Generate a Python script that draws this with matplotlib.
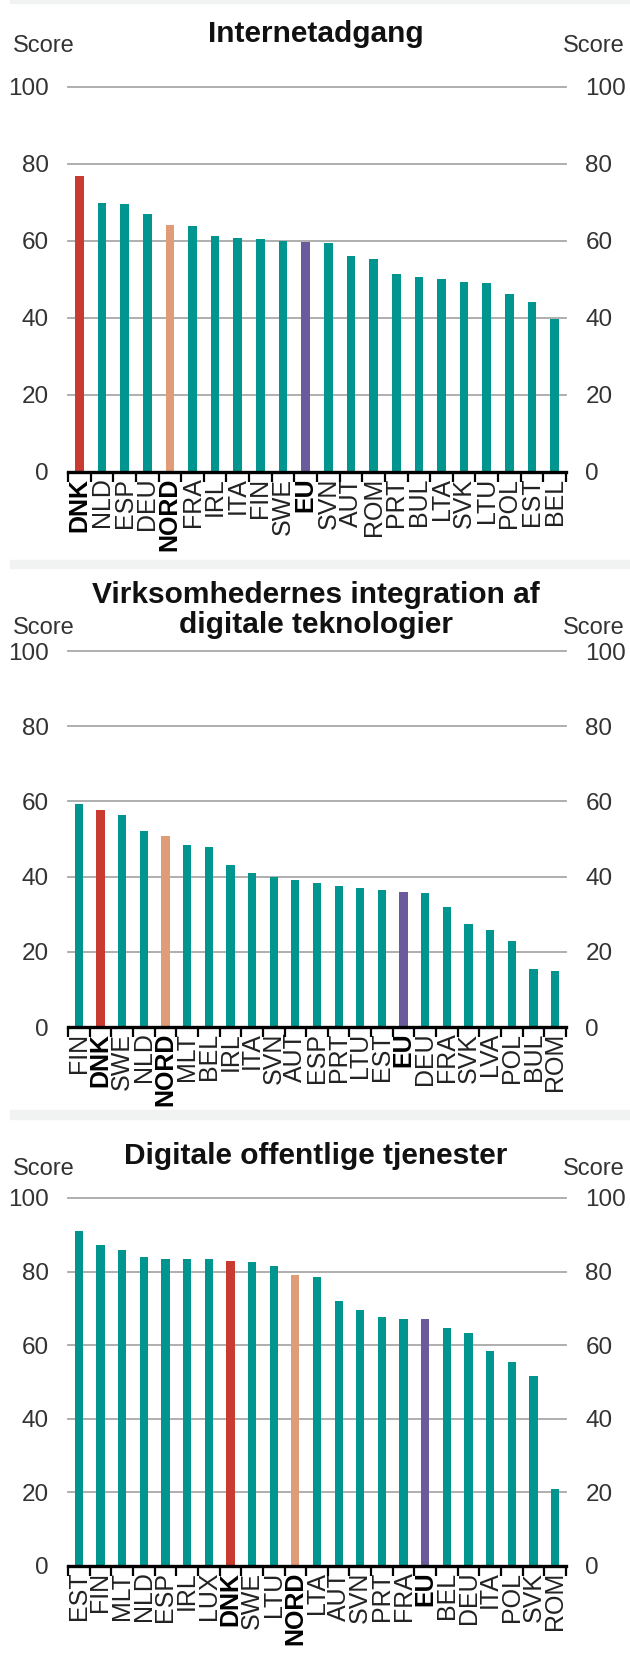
import matplotlib
matplotlib.use('Agg')
import matplotlib.pyplot as plt
from matplotlib.patches import Rectangle

# ---------------- data ----------------
title1 = "Internetadgang"
cats1 = ["DNK", "NLD", "ESP", "DEU", "NORD", "FRA", "IRL", "ITA", "FIN", "SWE", "EU",
         "SVN", "AUT", "ROM", "PRT", "BUL", "LTA", "SVK", "LTU", "POL", "EST", "BEL"]
vals1 = [76.9, 69.8, 69.4, 67.0, 64.2, 63.7, 61.3, 60.8, 60.4, 59.8, 59.6,
         59.5, 56.0, 55.2, 51.4, 50.5, 50.0, 49.4, 49.0, 46.2, 44.2, 39.7]

title2 = "Virksomhedernes integration af\ndigitale teknologier"
cats2 = ["FIN", "DNK", "SWE", "NLD", "NORD", "MLT", "BEL", "IRL", "ITA", "SVN", "AUT", "ESP",
         "PRT", "LTU", "EST", "EU", "DEU", "FRA", "SVK", "LVA", "POL", "BUL", "ROM"]
vals2 = [59.2, 57.8, 56.3, 52.1, 50.7, 48.3, 47.9, 43.2, 40.9, 40.0, 39.0, 38.4,
         37.5, 37.0, 36.5, 36.0, 35.6, 31.8, 27.5, 25.7, 22.9, 15.4, 14.8]

title3 = "Digitale offentlige tjenester"
cats3 = ["EST", "FIN", "MLT", "NLD", "ESP", "IRL", "LUX", "DNK", "SWE", "LTU", "NORD", "LTA",
         "AUT", "SVN", "PRT", "FRA", "EU", "BEL", "DEU", "ITA", "POL", "SVK", "ROM"]
vals3 = [91.1, 87.3, 85.9, 83.9, 83.4, 83.4, 83.4, 82.8, 82.5, 81.4, 79.1, 78.5,
         71.9, 69.6, 67.6, 67.1, 67.0, 64.6, 63.2, 58.4, 55.5, 51.6, 20.9]

yticks = [0, 20, 40, 60, 80, 100]
ylabel = "Score"

# ---------------- style ----------------
TEAL = "#00968F"
RED = "#C93A31"
SALMON = "#E09B77"
PURPLE = "#6B5B9D"
GRID = "#A8A8A8"
TXT = "#333333"
special = {"DNK": RED, "NORD": SALMON, "EU": PURPLE}
bold = {"DNK", "NORD", "EU"}

NARROW = ["Liberation Sans Narrow", "Liberation Sans", "DejaVu Sans"]
WIDE = ["Liberation Sans", "DejaVu Sans"]
plt.rcParams['font.family'] = NARROW

W, H = 630, 1657
fig = plt.figure(figsize=(W / 100, H / 100), dpi=100)


def fx(px):
    return px / W


def fy(py):
    return 1 - py / H


# separator bands
for top, bot in [(0, 3), (560, 568), (1110, 1119)]:
    fig.patches.append(Rectangle((fx(10), fy(bot)), 1 - fx(10), (bot - top) / H,
                                 transform=fig.transFigure, color="#F1F3F3", zorder=0))

panels = [
    dict(title=title1, cats=cats1, vals=vals1, y0=472, y100=86.5, ty=34, sy=46),
    dict(title=title2, cats=cats2, vals=vals2, y0=1027, y100=651, ty=610, sy=628),
    dict(title=title3, cats=cats3, vals=vals3, y0=1566, y100=1198, ty=1156, sy=1169),
]

XL, XR = 68, 566
for p in panels:
    ax = fig.add_axes([fx(XL), fy(p["y0"]), fx(XR) - fx(XL), (p["y0"] - p["y100"]) / H])
    n = len(p["cats"])
    x = list(range(n))
    cols = [special.get(c, TEAL) for c in p["cats"]]
    ax.bar(x, p["vals"], width=0.38, color=cols, zorder=3)
    ax.set_xlim(-0.5, n - 0.5)
    ax.set_ylim(0, 100)
    for v in yticks[1:]:
        ax.axhline(v, color=GRID, lw=1.3, zorder=1, clip_on=False)
    for s in ["top", "left", "right"]:
        ax.spines[s].set_visible(False)
    ax.spines["bottom"].set_linewidth(2.4)
    ax.spines["bottom"].set_color("black")
    ax.spines["bottom"].set_zorder(4)
    ax.set_yticks(yticks)
    ax.set_yticklabels([str(t) for t in yticks])
    ax.tick_params(axis="y", length=0, labelsize=17.5, labelcolor=TXT,
                   left=False, right=False, labelleft=True, labelright=True, pad=14)
    ax.set_xticks(x)
    ax.set_xticklabels(p["cats"], rotation=90, fontsize=18, color="#222222")
    ax.tick_params(axis="x", which="major", length=0, pad=4)
    ax.set_xticks([i - 0.5 for i in range(n + 1)], minor=True)
    ax.tick_params(axis="x", which="minor", length=7, width=1.6, color="black", direction="out")
    for lbl in ax.get_xticklabels():
        if lbl.get_text() in bold:
            lbl.set_fontweight("bold")
            lbl.set_color("black")
    # titles and Score labels
    fig.text(fx(316), fy(p["ty"]), p["title"], ha="center", va="center",
             fontsize=21.5, fontweight="bold", family=WIDE, color="#111111", linespacing=1.1)
    fig.text(fx(13), fy(p["sy"]), ylabel, ha="left", va="center", fontsize=17, color=TXT)
    fig.text(fx(625), fy(p["sy"]), ylabel, ha="right", va="center", fontsize=17, color=TXT)

fig.savefig("out.png", dpi=100, facecolor="white")
